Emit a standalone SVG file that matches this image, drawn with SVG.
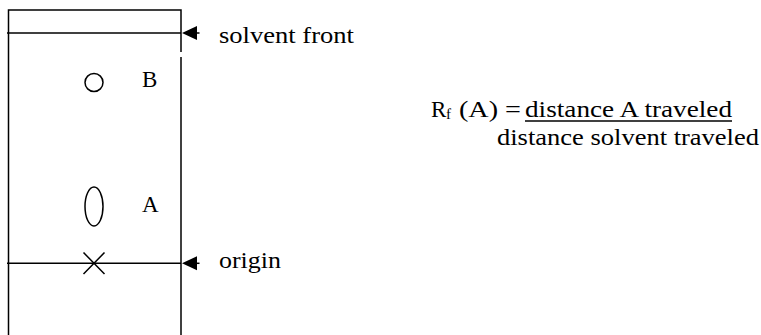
<svg xmlns="http://www.w3.org/2000/svg" width="761" height="335" viewBox="0 0 761 335">
<style>
.ln{fill:none;stroke:#000;stroke-width:1.5}
.t{font-family:"Liberation Serif","Times New Roman",serif;font-size:23px;fill:#000}
.ah{fill:#000;stroke:none}
</style>
<rect width="761" height="335" fill="#fff"/>
<g id="plate">
<path class="ln" d="M8.5,335 V10 H181 V52"/>
<path class="ln" d="M181,57 V335"/>
</g>
<g id="solvent-front-line">
<line class="ln" x1="7" y1="33" x2="181" y2="33"/>
</g>
<g id="origin-line">
<line class="ln" x1="7" y1="263.3" x2="181" y2="263.3"/>
<path class="ln" d="M83.5,252.5 L104.5,274 M104.5,252.5 L83.5,274"/>
</g>
<g id="spot-B">
<circle class="ln" cx="94" cy="82.5" r="9"/>
<text class="t" x="142" y="87">B</text>
</g>
<g id="spot-A">
<ellipse class="ln" cx="94" cy="206.5" rx="9" ry="19.5"/>
<text class="t" x="142" y="212.3">A</text>
</g>
<g id="connectors">
<polygon class="ah" points="182,33 197,26 197,40"/>
<line class="ln" x1="196" y1="33" x2="199.5" y2="33"/>
<polygon class="ah" points="182,263.3 197,256.3 197,270.3"/>
<line class="ln" x1="196" y1="263.3" x2="199.5" y2="263.3"/>
</g>
<g id="label-solvent-front">
<text class="t" x="219" y="43.3" textLength="135" lengthAdjust="spacingAndGlyphs">solvent front</text>
</g>
<g id="label-origin">
<text class="t" x="219" y="268.3" textLength="62" lengthAdjust="spacingAndGlyphs">origin</text>
</g>
<g id="formula">
<text class="t" x="431" y="116.7">R</text>
<text class="t" x="446" y="119" style="font-size:15px">f</text>
<text class="t" x="459" y="116.7" textLength="62" lengthAdjust="spacingAndGlyphs">(A) =</text>
<text class="t" x="525" y="116.7" textLength="207" lengthAdjust="spacingAndGlyphs">distance A traveled</text>
<line x1="525" y1="121" x2="732" y2="121" stroke="#000" stroke-width="1.5"/>
<text class="t" x="497" y="145" textLength="262" lengthAdjust="spacingAndGlyphs">distance solvent traveled</text>
</g>
</svg>
